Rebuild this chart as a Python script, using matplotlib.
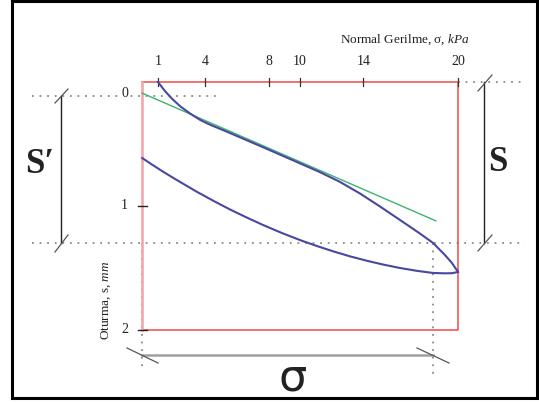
import matplotlib
matplotlib.use("Agg")
import matplotlib.pyplot as plt

# ---- data ----
sigma_ticks = [1, 4, 8, 10, 14, 20]
s_tick_pos = [0.09, 1.0, 2.0]
s_tick_labels = ["0", "1", "2"]

load_sigma = [1.00, 1.44, 1.89, 2.39, 3.03, 3.66, 4.04, 4.42, 5.24, 6.19, 7.65,
              9.04, 9.99, 11.26, 12.53, 13.79, 15.06, 16.33, 17.59, 18.42, 19.17,
              19.62, 20.00]
load_s = [0.000, 0.073, 0.135, 0.194, 0.254, 0.305, 0.329, 0.351, 0.394, 0.446, 0.526,
          0.603, 0.656, 0.727, 0.806, 0.899, 1.004, 1.113, 1.222, 1.298, 1.395,
          1.460, 1.532]

unload_sigma = [20.00, 19.62, 19.17, 18.42, 17.40, 16.33, 15.25, 14.24, 13.16, 12.08,
                11.07, 10.00, 8.85, 7.65, 6.64, 5.56, 4.61, 3.47, 2.08, 1.32, 0.62, 0.00]
unload_s = [1.532, 1.542, 1.543, 1.540, 1.523, 1.500, 1.472, 1.442, 1.406, 1.365,
            1.323, 1.275, 1.218, 1.153, 1.094, 1.028, 0.965, 0.886, 0.782, 0.723,
            0.666, 0.613]

tangent_sigma = [0.0, 18.6]
tangent_s = [0.09, 1.12]

x_label = "Normal Gerilme, σ, $\\mathit{kPa}$"
y_label = "Oturma, s, $\\mathit{mm}$"

plt.rcParams['mathtext.fontset'] = 'custom'
plt.rcParams['mathtext.rm'] = 'Liberation Serif'
plt.rcParams['mathtext.it'] = 'Liberation Serif:italic'
plt.rcParams['font.family'] = ['Liberation Serif', 'DejaVu Serif']

W, H = 539, 403
X0, XS = 142.2, 15.79
Y0, YS = 82.0, 124.0

def sx(p):
    return (p - X0) / XS

def sy(p):
    return (p - Y0) / YS

fig = plt.figure(figsize=(W / 100, H / 100), dpi=100)
ax = fig.add_axes([0, 0, 1, 1])
ax.set_xlim(sx(0), sx(W))
ax.set_ylim(sy(H), sy(0))
ax.axis('off')

dot = dict(color='#8a8a8a', lw=1.3, linestyle=(0, (1, 3.2)))

# outer frame
ax.plot([sx(12), sx(537), sx(537), sx(12), sx(12)],
        [sy(0.8), sy(0.8), sy(398.5), sy(398.5), sy(0.8)], color='black', lw=2.2,
        solid_joinstyle='miter')

# dotted guides
ax.plot([sx(32), sx(220)], [sy(96), sy(96)], **dot)
ax.plot([sx(32), sx(525)], [sy(243), sy(243)], **dot)
ax.plot([sx(458), sx(525)], [sy(82), sy(82)], **dot)
ax.plot([sx(433), sx(433)], [sy(243), sy(375)], **dot)
ax.plot([sx(142), sx(142)], [sy(243), sy(372)], **dot)

# red box
ax.plot([0, 20, 20, 0], [sy(82), sy(82), sy(330), sy(330)], color='#f04848', lw=1.1)
ax.plot([0, 0], [sy(82), sy(330)], color='#f6a0a8', lw=1.8)

# top ticks and labels
for v in sigma_ticks:
    ax.plot([v, v], [sy(78), sy(86)], color='#333333', lw=0.9)
    ax.text(v, sy(62), str(v), ha='center', va='center', fontsize=10, color='#222222')

# left ticks and labels
for pos, lab in zip(s_tick_pos, s_tick_labels):
    if lab != "0":
        ax.plot([sx(138), sx(147)], [pos, pos], color='#222222', lw=1.0)
    ax.text(sx(128), pos, lab, ha='right', va='center', fontsize=10, color='#222222',
            bbox=dict(facecolor='white', edgecolor='none', pad=0.5))

ax.text(sx(405), sy(40), x_label, ha='center', va='center', fontsize=9.5, color='#222222')
ax.text(sx(106), sy(300), y_label, ha='center', va='center', rotation=90,
        fontsize=9.5, color='#222222')

# curves
ax.plot(tangent_sigma, tangent_s, color='#3cb46e', lw=1.0)
ax.plot(load_sigma, load_s, color='#4848a0', lw=1.5, solid_joinstyle='round')
ax.plot(unload_sigma, unload_s, color='#4848a0', lw=1.5, solid_joinstyle='round')

# S' bracket
ax.plot([sx(61), sx(61)], [sy(96), sy(243)], color='#222222', lw=1.0)
ax.plot([sx(55), sx(68)], [sy(103), sy(89)], color='#555555', lw=0.9)
ax.plot([sx(55), sx(68)], [sy(252), sy(235)], color='#555555', lw=0.9)
ax.text(sx(40), sy(165), "S′", ha='center', va='center', fontsize=25, fontweight='bold',
        color='#222222')

# S bracket
ax.plot([sx(484), sx(484)], [sy(82), sy(243)], color='#222222', lw=1.0)
ax.plot([sx(478), sx(492)], [sy(91), sy(75)], color='#555555', lw=0.9)
ax.plot([sx(478), sx(492)], [sy(251), sy(235)], color='#555555', lw=0.9)
ax.text(sx(498), sy(163), "S", ha='center', va='center', fontsize=25, fontweight='bold',
        color='#222222')

# sigma bracket
ax.plot([sx(142), sx(433)], [sy(355), sy(355)], color='#a0a0a0', lw=1.8)
ax.plot([sx(127), sx(158)], [sy(348), sy(363)], color='#555555', lw=0.9)
ax.plot([sx(417), sx(449)], [sy(348), sy(363)], color='#555555', lw=0.9)
ax.text(sx(293), sy(378), "σ", ha='center', va='center', fontsize=32, color='#222222',
        family='DejaVu Sans')

fig.savefig("out.png", dpi=100)
